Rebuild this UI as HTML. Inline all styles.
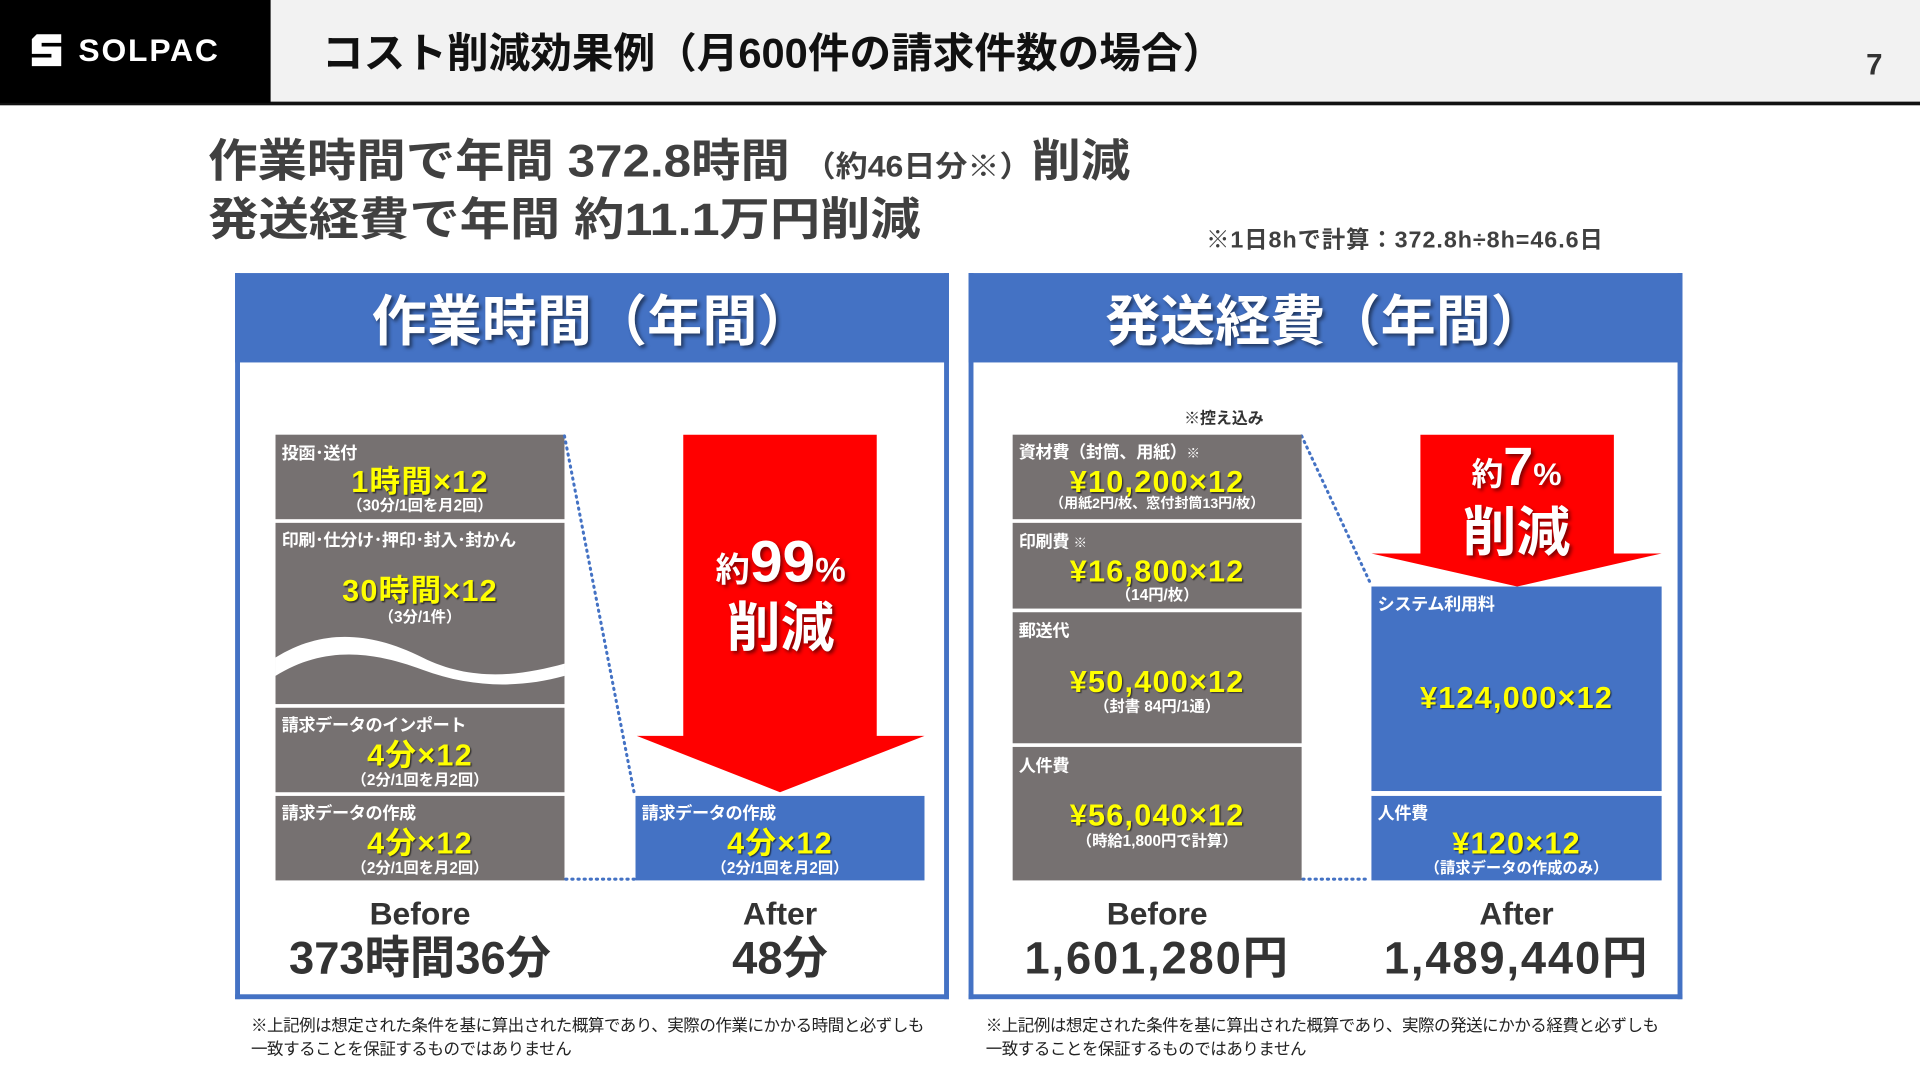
<!DOCTYPE html>
<html lang="ja"><head><meta charset="utf-8">
<style>
html,body{margin:0;padding:0;background:#fff;}
body{width:1920px;height:1080px;overflow:hidden;position:relative;}
#stage{position:absolute;left:0;top:0;width:1568px;height:882px;transform:scale(1.22449);transform-origin:0 0;font-family:"Liberation Sans","Noto Sans CJK JP",sans-serif;}
.a{position:absolute;}
.t{position:absolute;white-space:nowrap;font-weight:bold;line-height:1;}
.c{text-align:center;}
.g{background:#767171;}
.b{background:#4472c4;}
.y{color:#ffff00;text-shadow:1px 1px 1px rgba(0,0,0,.6);}
.w{color:#fff;}
.lab{font-size:14px;color:#fff;left:5px;letter-spacing:-.3px;}
.sub{font-size:12.5px;color:#fff;width:100%;text-align:center;letter-spacing:0;}
.val{font-size:25px;width:100%;text-align:center;letter-spacing:1px;}
</style></head><body>
<div id="stage">
  <div class="a" style="left:0;top:0;width:1568px;height:83px;background:#f2f2f2;"></div>
  <div class="a" style="left:0;top:83px;width:1568px;height:3px;background:#111;"></div>
  <div class="a" style="left:0;top:0;width:221px;height:84px;background:#000;">
    <svg class="a" style="left:22px;top:26px" width="32" height="30" viewBox="0 0 32 30"><path d="M8 2h20v7H12v3h16v16H4v-7h16v-3H4V6z" fill="#fff"/></svg>
    <div class="t w" style="left:64px;top:28px;font-size:26px;letter-spacing:1.5px;font-weight:bold;">SOLPAC</div>
  </div>
  <div class="t" style="left:263px;top:27px;font-size:34px;color:#111;letter-spacing:0;">コスト削減効果例（月600件の請求件数の場合）</div>
  <div class="t" style="left:1524px;top:42px;font-size:24px;color:#333;">7</div>

  <div class="t" style="left:170px;top:113px;font-size:37px;color:#404040;letter-spacing:0;transform:scaleX(1.09);transform-origin:left;">作業時間で年間 372.8時間 <span style="font-size:24px">（約46日分※）</span>削減</div>
  <div class="t" style="left:170px;top:161px;font-size:37px;color:#404040;letter-spacing:0;transform:scaleX(1.11);transform-origin:left;">発送経費で年間 約11.1万円削減</div>
  <div class="t" style="left:985px;top:187px;font-size:19px;color:#404040;letter-spacing:.8px;">※1日8hで計算：372.8h÷8h=46.6日</div>

  <!-- LEFT PANEL -->
  <div class="a" style="left:192px;top:223px;width:575px;height:589px;border:4px solid #4472c4;border-top:none;"></div>
  <div class="a b" style="left:192px;top:223px;width:583px;height:73px;"></div>
  <div class="t w c" style="left:192px;width:583px;top:240px;font-size:45px;text-shadow:2px 2px 3px rgba(0,0,0,.5);letter-spacing:0;">作業時間（年間）</div>

  <div class="a g" style="left:225px;top:355px;width:236px;height:69px;">
    <div class="t lab" style="top:8px;">投函･送付</div>
    <div class="t val y" style="top:27px;">1時間×12</div>
    <div class="t sub" style="top:52px;">（30分/1回を月2回）</div>
  </div>
  <div class="a g" style="left:225px;top:427px;width:236px;height:148px;overflow:hidden;">
    <div class="t lab" style="top:7px;">印刷･仕分け･押印･封入･封かん</div>
    <div class="t val y" style="top:44px;">30時間×12</div>
    <div class="t sub" style="top:71px;">（3分/1件）</div>
    <svg class="a" style="left:0;top:80px" width="236" height="68" viewBox="0 0 236 68"><path d="M0 30 C40 5 80 10 120 30 S200 45 236 35 L236 45 C200 55 160 55 120 40 S40 20 0 45 Z" fill="#fff"/></svg>
  </div>
  <div class="a g" style="left:225px;top:578px;width:236px;height:69px;">
    <div class="t lab" style="top:7px;">請求データのインポート</div>
    <div class="t val y" style="top:27px;">4分×12</div>
    <div class="t sub" style="top:53px;">（2分/1回を月2回）</div>
  </div>
  <div class="a g" style="left:225px;top:650px;width:236px;height:69px;">
    <div class="t lab" style="top:7px;">請求データの作成</div>
    <div class="t val y" style="top:27px;">4分×12</div>
    <div class="t sub" style="top:53px;">（2分/1回を月2回）</div>
  </div>
  <div class="a b" style="left:519px;top:650px;width:236px;height:69px;">
    <div class="t lab" style="top:7px;">請求データの作成</div>
    <div class="t val y" style="top:27px;">4分×12</div>
    <div class="t sub" style="top:53px;">（2分/1回を月2回）</div>
  </div>
  <svg class="a" style="left:0;top:0" width="1568" height="882">
    <line x1="461" y1="356" x2="518" y2="648" stroke="#4472c4" stroke-width="2.5" stroke-dasharray="1 4" stroke-linecap="round"/>
    <line x1="462" y1="718" x2="518" y2="718" stroke="#4472c4" stroke-width="2.5" stroke-dasharray="1 4" stroke-linecap="round"/>
    <line x1="1063" y1="356" x2="1119" y2="476" stroke="#4472c4" stroke-width="2.5" stroke-dasharray="1 4" stroke-linecap="round"/>
    <line x1="1064" y1="718" x2="1119" y2="718" stroke="#4472c4" stroke-width="2.5" stroke-dasharray="1 4" stroke-linecap="round"/>
    <polygon points="558,355 716,355 716,601 755,601 637,647 520,601 558,601" fill="#ff0000"/>
    <polygon points="1160,355 1318,355 1318,452 1357,452 1239,479 1120,452 1160,452" fill="#ff0000"/>
  </svg>
  <div class="t w c" style="left:520px;width:235px;top:436px;font-size:48px;text-shadow:2px 2px 3px rgba(0,0,0,.5);"><span style="font-size:28px">約</span>99<span style="font-size:28px">%</span></div>
  <div class="t w c" style="left:520px;width:235px;top:492px;font-size:44px;text-shadow:2px 2px 3px rgba(0,0,0,.5);">削減</div>

  <div class="t c" style="left:225px;width:236px;top:733px;font-size:26px;color:#333;">Before</div>
  <div class="t c" style="left:519px;width:236px;top:733px;font-size:26px;color:#333;">After</div>
  <div class="t c" style="left:195px;width:296px;top:764px;font-size:37px;color:#333;letter-spacing:0;">373時間36分</div>
  <div class="t c" style="left:519px;width:236px;top:764px;font-size:37px;color:#333;">48分</div>

  <!-- RIGHT PANEL -->
  <div class="a" style="left:791px;top:223px;width:575px;height:589px;border:4px solid #4472c4;border-top:none;"></div>
  <div class="a b" style="left:791px;top:223px;width:583px;height:73px;"></div>
  <div class="t w c" style="left:791px;width:583px;top:240px;font-size:45px;text-shadow:2px 2px 3px rgba(0,0,0,.5);letter-spacing:0;">発送経費（年間）</div>
  <div class="t" style="left:967px;top:335px;font-size:13px;color:#333;">※控え込み</div>

  <div class="a g" style="left:827px;top:355px;width:236px;height:69px;">
    <div class="t lab" style="top:7px;">資材費（封筒、用紙）<span style="font-size:11px">※</span></div>
    <div class="t val y" style="top:27px;">¥10,200×12</div>
    <div class="t sub" style="top:52px;font-size:11.5px;">（用紙2円/枚、窓付封筒13円/枚）</div>
  </div>
  <div class="a g" style="left:827px;top:427px;width:236px;height:70px;">
    <div class="t lab" style="top:8px;">印刷費 <span style="font-size:11px">※</span></div>
    <div class="t val y" style="top:28px;">¥16,800×12</div>
    <div class="t sub" style="top:53px;">（14円/枚）</div>
  </div>
  <div class="a g" style="left:827px;top:500px;width:236px;height:107px;">
    <div class="t lab" style="top:8px;">郵送代</div>
    <div class="t val y" style="top:45px;">¥50,400×12</div>
    <div class="t sub" style="top:71px;">（封書 84円/1通）</div>
  </div>
  <div class="a g" style="left:827px;top:610px;width:236px;height:109px;">
    <div class="t lab" style="top:8px;">人件費</div>
    <div class="t val y" style="top:44px;">¥56,040×12</div>
    <div class="t sub" style="top:71px;">（時給1,800円で計算）</div>
  </div>
  <div class="a b" style="left:1120px;top:479px;width:237px;height:167px;">
    <div class="t lab" style="top:7px;">システム利用料</div>
    <div class="t val y" style="top:79px;">¥124,000×12</div>
  </div>
  <div class="a b" style="left:1120px;top:650px;width:237px;height:69px;">
    <div class="t lab" style="top:7px;">人件費</div>
    <div class="t val y" style="top:27px;">¥120×12</div>
    <div class="t sub" style="top:53px;">（請求データの作成のみ）</div>
  </div>
  <div class="t w c" style="left:1120px;width:237px;top:360px;font-size:44px;text-shadow:2px 2px 3px rgba(0,0,0,.5);"><span style="font-size:26px">約</span>7<span style="font-size:26px">%</span></div>
  <div class="t w c" style="left:1120px;width:237px;top:414px;font-size:44px;text-shadow:2px 2px 3px rgba(0,0,0,.5);">削減</div>

  <div class="t c" style="left:827px;width:236px;top:733px;font-size:26px;color:#333;">Before</div>
  <div class="t c" style="left:1120px;width:237px;top:733px;font-size:26px;color:#333;">After</div>
  <div class="t c" style="left:805px;width:280px;top:764px;font-size:37px;color:#333;letter-spacing:1.5px;">1,601,280円</div>
  <div class="t c" style="left:1098px;width:281px;top:764px;font-size:37px;color:#333;letter-spacing:1.5px;">1,489,440円</div>

  <div class="t" style="left:205px;top:828px;font-size:13.5px;color:#222;font-weight:normal;line-height:19px;letter-spacing:-.4px;">※上記例は想定された条件を基に算出された概算であり、実際の作業にかかる時間と必ずしも<br>一致することを保証するものではありません</div>
  <div class="t" style="left:805px;top:828px;font-size:13.5px;color:#222;font-weight:normal;line-height:19px;letter-spacing:-.4px;">※上記例は想定された条件を基に算出された概算であり、実際の発送にかかる経費と必ずしも<br>一致することを保証するものではありません</div>
</div>
</body></html>
